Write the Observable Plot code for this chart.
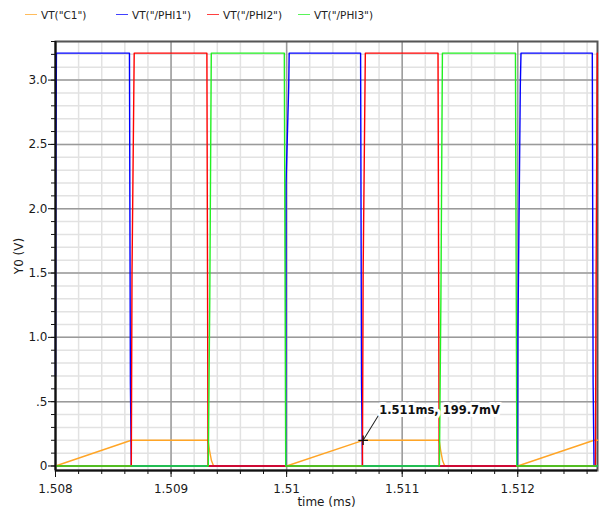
<!DOCTYPE html>
<html>
<head>
<meta charset="utf-8">
<script src="https://cdn.jsdelivr.net/npm/d3@7"></script>
<script src="https://cdn.jsdelivr.net/npm/@observablehq/plot@0.6"></script>
<style>
  html, body { margin: 0; padding: 0; background: white; }
  body { width: 606px; height: 510px; overflow: hidden; font-family: "DejaVu Sans", sans-serif; }
  #legend { position: relative; height: 30px; width: 606px; }
  .item { position: absolute; top: 8px; height: 14px; font-size: 10.5px; color: #222; line-height: 14px; white-space: nowrap; }
  .item .sw { position: absolute; left: 0; top: 6px; width: 12px; height: 0; border-top: 1.5px solid; opacity: 0.75; }
  .item .lb { position: absolute; left: 16px; top: 0; }
  #chart svg { display: block; }
</style>
</head>
<body>
<div id="legend"></div>
<div id="chart"></div>
<script>
// ---- data ----
const seriesNames = ['VT("C1")', 'VT("/PHI1")', 'VT("/PHI2")', 'VT("/PHI3")'];
const seriesColors = ["#ffa526", "#0000ff", "#ff0000", "#22f022"];
const legendLeft = [25, 116, 207, 298];

const xTicks = [1.508, 1.509, 1.51, 1.511, 1.512];
const xTickLabels = ["1.508", "1.509", "1.51", "1.511", "1.512"];
const yTicks = [0, 0.5, 1.0, 1.5, 2.0, 2.5, 3.0];
const yTickLabels = ["0", ".5", "1.0", "1.5", "2.0", "2.5", "3.0"];
const xDomain = [1.508, 1.51269];
const yDomain = [-0.035, 3.3];

const c1Time  = [1.508, 1.508656, 1.50932, 1.509333, 1.50935, 1.509368, 1.51, 1.510662, 1.51132, 1.511333, 1.51135, 1.511368, 1.512, 1.51266, 1.51269];
const c1Value = [0, 0.2, 0.2, 0.12, 0.04, 0, 0, 0.1997, 0.1997, 0.12, 0.04, 0, 0, 0.2, 0.2];

const phi1Time  = [1.508, 1.508002, 1.508008, 1.50864, 1.508648, 1.508656, 1.509992, 1.509995, 1.510018, 1.510022, 1.51064, 1.510648, 1.510656, 1.511998, 1.512001, 1.512022, 1.512028, 1.512645, 1.512652, 1.51266, 1.51269];
const phi1Value = [0.7, 2.2, 3.21, 3.21, 0.65, 0, 0, 2.2, 2.95, 3.21, 3.21, 0.65, 0, 0, 1.0, 2.95, 3.21, 3.21, 0.65, 0, 0];

const phi2Time  = [1.508, 1.508656, 1.508662, 1.508681, 1.50931, 1.50932, 1.510656, 1.510662, 1.510681, 1.51131, 1.51132, 1.512672, 1.512678, 1.512688, 1.51269];
const phi2Value = [0, 0, 1.5, 3.21, 3.21, 0, 0, 1.5, 3.21, 3.21, 0, 0, 1.5, 3.21, 3.21];

const phi3Time  = [1.508, 1.509322, 1.509335, 1.509348, 1.50998, 1.509992, 1.511322, 1.511335, 1.511348, 1.51198, 1.511992, 1.51269];
const phi3Value = [0, 0, 1.3, 3.21, 3.21, 0, 0, 1.3, 3.21, 3.21, 0, 0];

const markerTime = [1.510662];
const markerValue = [0.1997];
const markerLabel = ["1.511ms, 199.7mV"];

// ---- build tables ----
const toRows = (ts, vs) => ts.map((t, i) => ({t, v: vs[i]}));
const series = [
  toRows(c1Time, c1Value),
  toRows(phi1Time, phi1Value),
  toRows(phi2Time, phi2Value),
  toRows(phi3Time, phi3Value)
];
const marker = markerTime.map((t, i) => ({t, v: markerValue[i], label: markerLabel[i]}));

const xMinor = d3.range(0, 24).map(i => xDomain[0] + i * 0.0002).filter(x => x <= xDomain[1]);
const yMinor = d3.range(0, 34).map(i => i * 0.1);

// ---- legend ----
const legend = document.getElementById("legend");
seriesNames.forEach((name, i) => {
  const it = document.createElement("div");
  it.className = "item";
  it.style.left = legendLeft[i] + "px";
  const sw = document.createElement("span");
  sw.className = "sw";
  sw.style.borderTopColor = seriesColors[i];
  const lb = document.createElement("span");
  lb.className = "lb";
  lb.textContent = name;
  it.appendChild(sw); it.appendChild(lb);
  legend.appendChild(it);
});

// ---- chart ----
const lineShape = { draw(context, l) { context.moveTo(0, 0); context.lineTo(0, -l); } };

const chart = Plot.plot({
  width: 606,
  height: 480,
  marginLeft: 55,
  marginRight: 9,
  marginTop: 11,
  marginBottom: 40,
  style: { fontFamily: "DejaVu Sans, sans-serif", fontSize: "12px", color: "#1a1a1a", background: "white" },
  x: { domain: xDomain, label: null },
  y: { domain: yDomain, label: null },
  marks: [
    Plot.gridX(xMinor, { stroke: "#e2e2e2", strokeOpacity: 1, strokeWidth: 1.5 }),
    Plot.gridY(yMinor, { stroke: "#e2e2e2", strokeOpacity: 1, strokeWidth: 1.5 }),
    Plot.gridX(xTicks, { stroke: "#9a9a9a", strokeOpacity: 1, strokeWidth: 1.5 }),
    Plot.gridY(yTicks, { stroke: "#9a9a9a", strokeOpacity: 1, strokeWidth: 1.5 }),
    Plot.frame({ stroke: "#555", strokeWidth: 2 }),
    ...series.map((rows, i) => Plot.line(rows, { x: "t", y: "v", stroke: seriesColors[i], strokeWidth: 1.4, curve: "linear" })),
    Plot.ruleX([xDomain[0]], { stroke: "#111", strokeWidth: 2 }),
    Plot.ruleY([yDomain[0]], { stroke: "#111", strokeWidth: 2 }),
    Plot.axisX(xMinor, { tickSize: 4, tickFormat: () => "", label: null, stroke: "#111" }),
    Plot.axisX(xTicks, { tickSize: 7, tickPadding: 7, tickFormat: d => xTickLabels[xTicks.indexOf(d)], label: null, stroke: "#111", fontSize: 12 }),
    Plot.axisY(yMinor, { tickSize: 4, tickFormat: () => "", label: null, stroke: "#111" }),
    Plot.axisY(yTicks, { tickSize: 7, tickPadding: 1, tickFormat: d => yTickLabels[yTicks.indexOf(d)], label: null, stroke: "#111", fontSize: 12 }),
    Plot.text(["time (ms)"], { frameAnchor: "bottom", dy: 32, lineAnchor: "middle", fontSize: 12, fill: "#1a1a1a" }),
    Plot.text(["Y0 (V)"], { frameAnchor: "left", dx: -36, rotate: -90, textAnchor: "middle", lineAnchor: "middle", fontSize: 12, fill: "#1a1a1a" }),
    Plot.vector(marker, { x: "t", y: "v", length: 30, rotate: 31.6, anchor: "start", shape: lineShape, stroke: "#222", strokeWidth: 1 }),
    Plot.dot(marker, { x: "t", y: "v", symbol: "plus", r: 3.2, stroke: "#111", strokeWidth: 1.3 }),
    Plot.text(marker, { x: "t", y: "v", text: "label", dx: 16, dy: -29.5, textAnchor: "start", lineAnchor: "middle", fontSize: 11.5, fontWeight: "bold", fill: "#111", stroke: "white", strokeWidth: 6 })
  ]
});
document.getElementById("chart").appendChild(chart);
</script>
</body>
</html>
